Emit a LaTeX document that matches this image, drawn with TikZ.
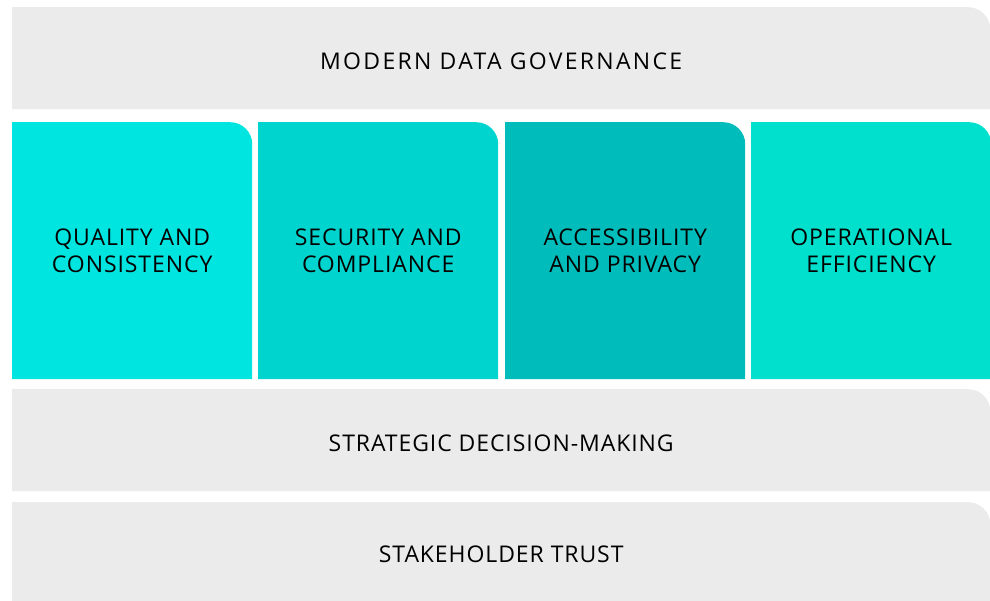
\documentclass[tikz,border=0pt]{standalone}
\usepackage{fontspec}
\setmainfont{Open Sans}
\usepackage{xcolor}
\usepackage{tikz}
\usetikzlibrary{positioning, calc}

\definecolor{bandgray}{HTML}{EBEBEB}
\definecolor{tealA}{HTML}{00E5E0}
\definecolor{tealB}{HTML}{00D4CE}
\definecolor{tealC}{HTML}{00BDBB}
\definecolor{tealD}{HTML}{00E0CC}

\tikzset{
  tab/.style={inner sep=0pt, align=center, text=black,
    font=\fontsize{23}{27}\selectfont\addfontfeatures{LetterSpace=4},
    path picture={
      \fill[#1] (path picture bounding box.south west)
        |- ([xshift=-22pt]path picture bounding box.north east)
        arc[start angle=90, end angle=0, radius=22pt]
        -- (path picture bounding box.south east) -- cycle;
    }},
  band/.style={tab=bandgray, text height=22pt, text depth=0pt,
    minimum width=978pt, minimum height=#1},
  pillar/.style={tab=#1, minimum width=240pt, minimum height=257pt}
}

\begin{document}
\begin{tikzpicture}[x=1pt, y=-1pt]
  \useasboundingbox (0, 0) rectangle (990, 601);

  % bands
  \node[band=102pt, anchor=north west,
    font=\fontsize{23}{27}\selectfont\addfontfeatures{LetterSpace=10}] (gov) at (12, 7) {MODERN DATA GOVERNANCE};
  \node[band=102pt, anchor=north west] (strategy) at (12, 389) {STRATEGIC DECISION-MAKING};
  \node[band=99pt, anchor=north west] (trust) at (12, 502) {STAKEHOLDER TRUST};

  % pillars
  \node[pillar=tealA, anchor=north west] (quality) at (12, 122) {QUALITY AND\\CONSISTENCY};
  \node[pillar=tealB, anchor=north west] (security) at (258, 122) {SECURITY AND\\COMPLIANCE};
  \node[pillar=tealC, anchor=north west] (access) at (505, 122) {ACCESSIBILITY\\AND PRIVACY};
  \node[pillar=tealD, anchor=north west] (ops) at (751, 122) {OPERATIONAL\\EFFICIENCY};
\end{tikzpicture}
\end{document}
